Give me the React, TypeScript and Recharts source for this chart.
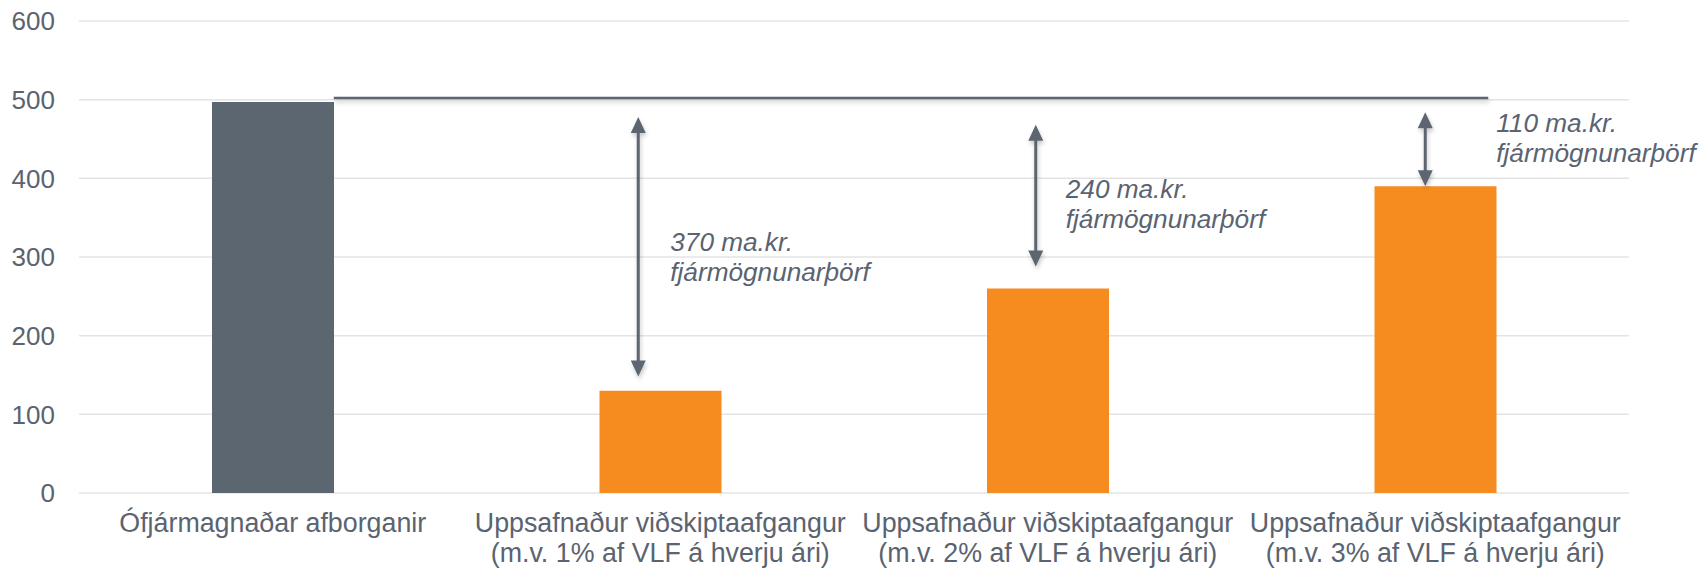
import { BarChart, Bar, XAxis, YAxis, CartesianGrid, Cell, ReferenceLine } from "recharts";

const categories = [
  "Ófjármagnaðar afborganir",
  "Uppsafnaður viðskiptaafgangur\n(m.v. 1% af VLF á hverju ári)",
  "Uppsafnaður viðskiptaafgangur\n(m.v. 2% af VLF á hverju ári)",
  "Uppsafnaður viðskiptaafgangur\n(m.v. 3% af VLF á hverju ári)",
];
const values = [497, 130, 260, 390];
const yTicks = [0, 100, 200, 300, 400, 500, 600];

// horizontal level line drawn from the first bar to the last one
const levelValue = 502;

// gap arrows (value units) and their labels
const gapCategory = [1, 2, 3];
const gapTop = [478, 468, 484];
const gapBottom = [148, 288, 390];
const gapAmount = ["370 ma.kr.", "240 ma.kr.", "110 ma.kr."];
const gapWord = "fjármögnunarþörf";

const FONT = "'Liberation Sans', Arial, sans-serif";
const TEXT = "#5a6370";
const INK = "#5b6570";
const GREY = "#5c6670";
const ORANGE = "#f68b1f";

// label placement, px
const arrowDx = [-22, -12, -10];
const textDx = [32, 30, 71];
const textDy = [134, 73, 20];

const data = categories.map((name, i) => ({ name, value: values[i] }));

function CategoryTick({ x, y, payload }: any) {
  const lines = String(payload.value).split("\n");
  return (
    <text x={x} y={y} textAnchor="middle" fill={TEXT} fontSize={26.8} fontFamily={FONT}>
      {lines.map((l, i) => (
        <tspan key={i} x={x} dy={i === 0 ? 39 : 30}>
          {l}
        </tspan>
      ))}
    </text>
  );
}

function levelShape(p: any) {
  return (
    <g>
      <defs>
        <filter id="softShadow" filterUnits="userSpaceOnUse" x="0" y="0" width="1701" height="569">
          <feDropShadow dx="1" dy="3" stdDeviation="2" floodColor="#000" floodOpacity="0.22" />
        </filter>
      </defs>
      <line
        x1={p.x1 + 61}
        x2={p.x2 + 53}
        y1={p.y1}
        y2={p.y2}
        stroke={INK}
        strokeWidth={2.5}
        filter="url(#softShadow)"
      />
    </g>
  );
}

function arrowShape(i: number) {
  return (p: any) => {
    const x = p.x1 + arrowDx[i];
    const yTop = Math.min(p.y1, p.y2);
    const yBot = Math.max(p.y1, p.y2);
    const hw = 7.5;
    const hl = 16;
    return (
      <g>
        <g filter="url(#softShadow)">
          <line x1={x} x2={x} y1={yTop + hl - 2} y2={yBot - hl + 2} stroke={INK} strokeWidth={3} />
          <polygon points={`${x},${yTop} ${x - hw},${yTop + hl} ${x + hw},${yTop + hl}`} fill={INK} />
          <polygon points={`${x},${yBot} ${x - hw},${yBot - hl} ${x + hw},${yBot - hl}`} fill={INK} />
        </g>
        <text
          x={x + textDx[i]}
          y={yTop + textDy[i]}
          fill={TEXT}
          fontSize={26.2}
          fontStyle="italic"
          fontFamily={FONT}
        >
          <tspan x={x + textDx[i]}>{gapAmount[i]}</tspan>
          <tspan x={x + textDx[i]} dy={30}>
            {gapWord}
          </tspan>
        </text>
      </g>
    );
  };
}

export default function App() {
  return (
    <div style={{ position: "absolute", left: 0, top: 0, background: "#fff" }}>
      <BarChart width={1701} height={569} data={data} margin={{ top: 21, right: 72, left: 0, bottom: 0 }}>
        <CartesianGrid vertical={false} stroke="#e4e4e4" strokeWidth={1.5} />
        <XAxis
          dataKey="name"
          axisLine={false}
          tickLine={false}
          tickSize={0}
          tickMargin={0}
          height={76}
          interval={0}
          tick={<CategoryTick />}
        />
        <YAxis
          domain={[0, 600]}
          ticks={yTicks}
          width={79}
          axisLine={false}
          tickLine={false}
          tickMargin={18}
          tick={{ fill: TEXT, fontSize: 26, fontFamily: FONT }}
        />
        <Bar dataKey="value" barSize={122} isAnimationActive={false}>
          {data.map((d, i) => (
            <Cell key={d.name} fill={i === 0 ? GREY : ORANGE} />
          ))}
        </Bar>
        <ReferenceLine
          segment={[
            { x: categories[0], y: levelValue },
            { x: categories[3], y: levelValue },
          ]}
          shape={levelShape}
        />
        {gapCategory.map((c, i) => (
          <ReferenceLine
            key={c}
            segment={[
              { x: categories[c], y: gapTop[i] },
              { x: categories[c], y: gapBottom[i] },
            ]}
            shape={arrowShape(i)}
          />
        ))}
      </BarChart>
    </div>
  );
}
